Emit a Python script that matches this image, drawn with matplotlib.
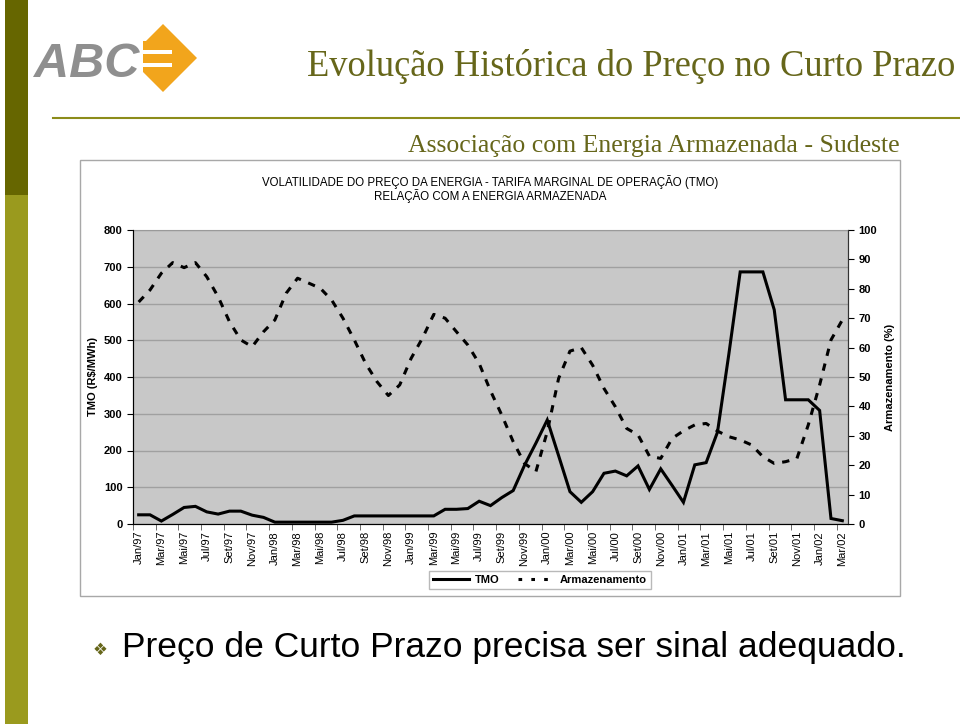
import numpy as np
import matplotlib
matplotlib.use("Agg")
import matplotlib.pyplot as plt
from matplotlib.patches import Rectangle, Polygon
from matplotlib.lines import Line2D

plt.rcParams['font.family'] = ['Liberation Sans', 'DejaVu Sans']

# monthly series Jan/97 .. Mar/02
month_names = ["Jan", "Fev", "Mar", "Abr", "Mai", "Jun",
               "Jul", "Ago", "Set", "Out", "Nov", "Dez"]
years = ["97", "98", "99", "00", "01", "02"]
months = [f"{m}/{y}" for y in years for m in month_names][:63]

tmo = [25, 25, 8, 26, 45, 48, 33, 27, 35, 35,
       24, 18, 5, 5, 5, 5, 5, 5, 10, 22,
       22, 22, 22, 22, 22, 22, 22, 40, 40, 42,
       62, 50, 72, 91, 160, 220, 283, 186, 88, 59,
       88, 138, 144, 131, 158, 94, 150, 105, 59, 161,
       167, 250, 462, 686, 686, 686, 583, 338, 338, 338,
       309, 15, 9]
armazenamento = [75.5, 79.6, 85.3, 88.9, 87.2, 88.9, 84.1, 77.3, 68.8, 62.6,
                 60.3, 65.4, 69.4, 78.5, 83.6, 81.9, 80.2, 76.2, 70.0, 62.6,
                 54.6, 48.4, 43.7, 47.3, 56.3, 63.2, 71.3, 70.0, 65.4, 60.9,
                 54.6, 45.3, 37.0, 28.0, 20.6, 17.8, 31.4, 49.5, 58.8, 60.0,
                 54.0, 46.1, 39.9, 32.5, 30.3, 23.1, 22.3, 29.1, 31.7, 33.7,
                 34.2, 31.6, 29.7, 28.6, 26.9, 22.9, 20.6, 21.2, 22.3, 33.7,
                 47.3, 62.6, 69.4]

olive = "#66661a"
orange = "#f2a51c"

fig = plt.figure(figsize=(9.6, 7.24), dpi=100)

# slide decorations in pixel coordinates
bg = fig.add_axes([0, 0, 1, 1], zorder=0)
bg.set_xlim(0, 960)
bg.set_ylim(724, 0)
bg.axis("off")

bg.add_patch(Rectangle((5, 0), 23, 195, color="#666600", lw=0))
bg.add_patch(Rectangle((5, 195), 23, 529, color="#9a9a1e", lw=0))
bg.plot([53, 960], [118, 118], color="#8c8c1a", lw=1.5)

# logo
bg.text(34, 77, "ABC", fontsize=35, fontweight="bold", style="italic",
        color="#8f8f8f", va="baseline", ha="left", family="Liberation Sans")
bg.add_patch(Polygon([(163, 24), (197, 58), (163, 92), (143, 72), (143, 44)],
                     closed=True, color=orange, lw=0))
bg.add_patch(Rectangle((143, 41), 29, 9, color=orange, lw=0))
bg.add_patch(Rectangle((143, 50), 29, 4, color="white", lw=0))
bg.add_patch(Rectangle((143, 63), 29, 4, color="white", lw=0))

bg.text(955, 67, "Evolução Histórica do Preço no Curto Prazo", fontsize=26.3,
        family="Liberation Serif", color=olive, ha="right", va="center")
bg.text(900, 146, "Associação com Energia Armazenada - Sudeste", fontsize=18.5,
        family="Liberation Serif", color=olive, ha="right", va="center")

# chart frame
bg.add_patch(Rectangle((80, 160), 820, 436, facecolor="white",
                       edgecolor="#a8a8a8", lw=1))
bg.text(490, 182, "VOLATILIDADE DO PREÇO DA ENERGIA - TARIFA MARGINAL DE OPERAÇÃO (TMO)",
        fontsize=8.3, ha="center", va="center")
bg.text(490, 196, "RELAÇÃO COM A ENERGIA ARMAZENADA",
        fontsize=8.3, ha="center", va="center")

bg.text(100, 650, "❖", fontsize=12, color=olive, ha="center", va="center",
        family="DejaVu Sans")
bg.text(122, 648, "Preço de Curto Prazo precisa ser sinal adequado.",
        fontsize=25.5, ha="left", va="center")

# chart
x = np.arange(len(months))
ax = fig.add_axes([133 / 960, 1 - 524 / 724, 715 / 960, 294 / 724], zorder=1)
ax.set_facecolor("#c8c8c8")
ax.plot(x, tmo, color="black", lw=2.2, solid_joinstyle="miter")
ax.set_xlim(-0.5, len(months) - 0.5)
ax.set_ylim(0, 800)
ax.set_yticks(range(0, 801, 100))
ax.yaxis.grid(True, color="#a0a0a0", lw=1)
ax.set_axisbelow(True)
ax.set_xticks(x[::2])
ax.set_xticklabels(months[::2], rotation=90, fontsize=8)
ax.set_xticks(np.arange(-0.5, len(months), 2), minor=True)
ax.tick_params(axis="x", which="major", length=0, pad=5)
ax.tick_params(axis="x", which="minor", length=4, direction="out", color="#555555")
ax.tick_params(axis="y", length=4, direction="out", labelsize=8)
for lab in ax.get_yticklabels():
    lab.set_fontweight("bold")
ax.set_ylabel("TMO (R$/MWh)", fontsize=8, fontweight="bold", labelpad=4)
ax.spines["top"].set_color("#9a9a9a")
for s in ["left", "bottom", "right"]:
    ax.spines[s].set_color("#333333")

ax2 = ax.twinx()
ax2.plot(x, armazenamento, color="black", lw=2.2, linestyle=(0, (2.4, 2.6)))
ax2.set_ylim(0, 100)
ax2.set_yticks(range(0, 101, 10))
ax2.tick_params(axis="y", length=4, direction="out", labelsize=8)
for lab in ax2.get_yticklabels():
    lab.set_fontweight("bold")
ax2.set_ylabel("Armazenamento (%)", fontsize=8, fontweight="bold", labelpad=6)
ax2.spines["top"].set_visible(False)
ax2.spines["right"].set_color("#333333")

handles = [Line2D([], [], color="black", lw=2.2),
           Line2D([], [], color="black", lw=2.2, linestyle=(0, (1.2, 3.0)))]
fig.legend(handles, ["TMO", "Armazenamento"], loc="center",
           bbox_to_anchor=(540 / 960, 1 - 580 / 724), ncol=2, frameon=True,
           fancybox=False, edgecolor="#a8a8a8",
           prop={"weight": "bold", "size": 8}, handlelength=3.2,
           handletextpad=0.6, columnspacing=1.6, borderpad=0.4)

fig.savefig("out.png", dpi=100)
